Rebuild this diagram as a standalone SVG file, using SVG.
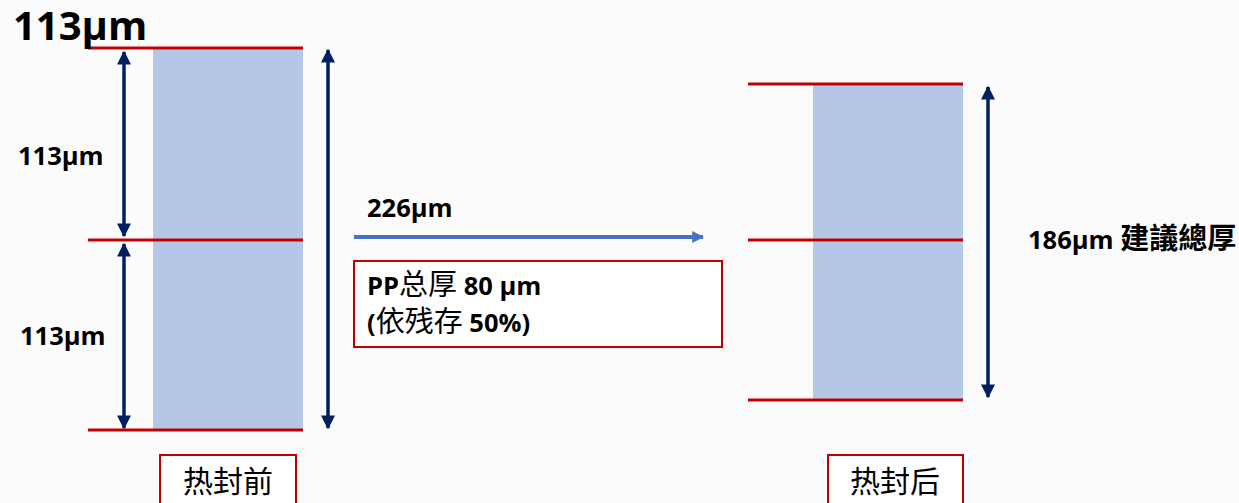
<svg xmlns="http://www.w3.org/2000/svg" width="1239" height="503" viewBox="0 0 1239 503">
<style>
.bg{fill:#FBFBFB}
.layer{fill:#B4C7E7}
.red{stroke:#C00000;stroke-width:3;fill:none}
.dim{stroke:#002060;stroke-width:3.5;fill:none}
.lbl{font-family:"Open Sans","Liberation Sans","Noto Sans CJK SC",sans-serif;font-weight:bold;fill:#000}
.cjk{font-family:"Noto Sans CJK SC",sans-serif;fill:#000}
.box{fill:#FFFFFF;stroke:#C00000;stroke-width:2}
</style>
<defs>
<marker id="ah" viewBox="0 0 10 10" refX="9" refY="5" markerWidth="4" markerHeight="4" orient="auto-start-reverse" markerUnits="strokeWidth">
<path d="M0,0 L10,5 L0,10 Z" fill="#002060"/>
</marker>
<marker id="ab" viewBox="0 0 10 10" refX="9" refY="5" markerWidth="3" markerHeight="3" orient="auto" markerUnits="strokeWidth">
<path d="M0,0 L10,5 L0,10 Z" fill="#4472C4"/>
</marker>
</defs>
<rect class="bg" x="0" y="0" width="1239" height="503"/>

<g id="before">
<rect class="layer" x="153" y="48" width="150" height="382"/>
<line class="red" x1="88" y1="48" x2="303" y2="48"/>
<line class="red" x1="88" y1="240" x2="303" y2="240"/>
<line class="red" x1="88" y1="430" x2="303" y2="430"/>
<text class="lbl" x="13" y="40" font-size="40">113μm</text>
<text class="lbl" x="18" y="165" font-size="25.5">113μm</text>
<text class="lbl" x="20" y="345" font-size="25.5">113μm</text>
</g>

<g id="after">
<rect class="layer" x="813" y="84" width="150" height="316"/>
<line class="red" x1="748" y1="84" x2="963" y2="84"/>
<line class="red" x1="748" y1="240" x2="963" y2="240"/>
<line class="red" x1="748" y1="400" x2="963" y2="400"/>
<text x="1028" y="249" font-size="25.5"><tspan class="lbl">186μm </tspan><tspan class="cjk" font-weight="bold" font-size="29">建議總厚</tspan></text>
</g>

<g id="process">
<text class="lbl" x="367" y="217" font-size="25.5">226μm</text>
<rect class="box" x="354" y="261" width="368" height="86"/>
<text x="367" y="295" font-size="25.5"><tspan class="lbl">PP</tspan><tspan class="cjk" font-size="29">总厚</tspan><tspan class="lbl"> 80 μm</tspan><tspan class="lbl" x="367" y="332">(</tspan><tspan class="cjk" font-size="29">依残存</tspan><tspan class="lbl"> 50%)</tspan></text>
</g>

<g id="label-before">
<rect class="box" x="160" y="455" width="136" height="60"/>
<text class="cjk" x="228" y="492" font-size="30" text-anchor="middle">热封前</text>
</g>

<g id="label-after">
<rect class="box" x="828" y="455" width="135" height="60"/>
<text class="cjk" x="895" y="492" font-size="30" text-anchor="middle">热封后</text>
</g>

<g id="connectors">
<line class="dim" x1="124" y1="52" x2="124" y2="236" marker-start="url(#ah)" marker-end="url(#ah)"/>
<line class="dim" x1="124" y1="244" x2="124" y2="428" marker-start="url(#ah)" marker-end="url(#ah)"/>
<line class="dim" x1="328" y1="50" x2="328" y2="428" marker-start="url(#ah)" marker-end="url(#ah)"/>
<line class="dim" x1="988" y1="87" x2="988" y2="397" marker-start="url(#ah)" marker-end="url(#ah)"/>
<line x1="354" y1="237" x2="703" y2="237" stroke="#4472C4" stroke-width="4" marker-end="url(#ab)"/>
</g>
</svg>
